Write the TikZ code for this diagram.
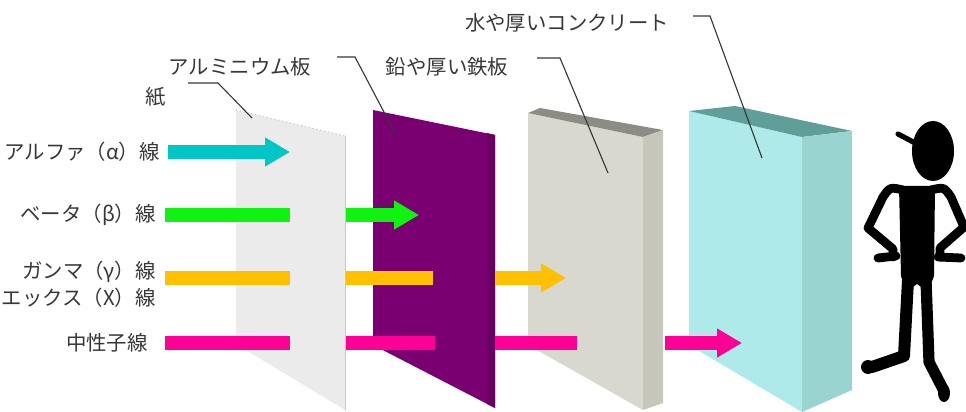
\documentclass[tikz,border=0pt]{standalone}
\usepackage{fontspec}
\setmainfont{Noto Sans CJK JP}
\usepackage{tikz}
\usetikzlibrary{arrows.meta}
\definecolor{textgray}{RGB}{55,55,55}
\definecolor{paperface}{RGB}{235,235,235}
\definecolor{paperedge}{RGB}{200,200,200}
\definecolor{alumface}{RGB}{122,0,114}
\definecolor{alumside}{RGB}{104,0,98}
\definecolor{ironface}{RGB}{216,216,206}
\definecolor{ironside}{RGB}{198,198,186}
\definecolor{irontop}{RGB}{140,140,132}
\definecolor{waterface}{RGB}{174,234,234}
\definecolor{waterside}{RGB}{154,212,208}
\definecolor{watertop}{RGB}{96,158,154}
\definecolor{alphacol}{RGB}{0,198,198}
\definecolor{betacol}{RGB}{16,242,16}
\definecolor{gammacol}{RGB}{255,192,0}
\definecolor{neutroncol}{RGB}{255,0,150}
\tikzstyle{raylabel} = [text=textgray, font=\fontsize{14.5}{17}\selectfont, inner sep=0pt, anchor=east]
\tikzstyle{platelabel} = [text=textgray, font=\fontsize{14.5}{17}\selectfont, inner sep=0pt]
\tikzstyle{leader} = [draw=textgray, line width=0.8pt]
\tikzstyle{ray} = [line width=0.35cm]
\tikzstyle{ray tip} = [ray, -{Triangle[length=0.62cm, width=0.68cm]}]
\tikzstyle{limb} = [draw=black, line width=0.22cm, line cap=round, line join=round]

\begin{document}
\begin{tikzpicture}[x=0.025cm, y=-0.025cm]
	\useasboundingbox (0,0) rectangle (966,412);

	% paper
	\fill[paperface] (236,110) -- (345,136) -- (345,410) -- (236,344) -- cycle;
	\draw[paperedge, dotted, thick] (236,110) -- (345,136);
	\draw[paperedge] (345,136) -- (345,410);

	% aluminium plate
	\fill[alumface] (373,110) -- (495,135) -- (495,408) -- (373,345) -- cycle;
	\fill[alumside] (487,133) -- (495,135) -- (495,408) -- (487,404) -- cycle;

	% lead / iron block
	\fill[ironface] (528,113) -- (643,137) -- (643,410) -- (528,345) -- cycle;
	\fill[irontop] (528,113) -- (540,108) -- (663,130) -- (643,137) -- cycle;
	\fill[ironside] (643,137) -- (663,130) -- (663,403) -- (643,410) -- cycle;

	% water / concrete block
	\fill[waterface] (689,111) -- (802,137) -- (802,412) -- (689,345) -- cycle;
	\fill[watertop] (689,111) -- (735,106) -- (852,131) -- (802,137) -- cycle;
	\fill[waterside] (802,137) -- (852,131) -- (852,390) -- (802,412) -- cycle;

	% rays
	\node[raylabel] (alpha) at (160,152) {アルファ（α）線};
	\node[raylabel] (beta) at (156,215) {ベータ（β）線};
	\node[raylabel] (gamma) at (156,272) {ガンマ（γ）線};
	\node[raylabel] (xray) at (156,298) {エックス（X）線};
	\node[raylabel] (neutron) at (148,343) {中性子線};

	\draw[ray tip, alphacol] (168,152) -- (290,152);

	\draw[ray, betacol] (165,215) -- (290,215);
	\draw[ray tip, betacol] (346,215) -- (419,215);

	\draw[ray, gammacol] (165,278) -- (290,278);
	\draw[ray, gammacol] (346,278) -- (433,278);
	\draw[ray tip, gammacol] (495,278) -- (566,278);

	\draw[ray, neutroncol] (165,343) -- (290,343);
	\draw[ray, neutroncol] (346,343) -- (435,343);
	\draw[ray, neutroncol] (495,343) -- (577,343);
	\draw[ray tip, neutroncol] (665,343) -- (742,343);

	% shields
	\node[platelabel] (paper) at (156,97) {紙};
	\node[platelabel] (alum) at (240,67) {アルミニウム板};
	\node[platelabel] (iron) at (447,67) {鉛や厚い鉄板};
	\node[platelabel] (water) at (567,23) {水や厚いコンクリート};

	\draw[leader] (188,83) -- (218,83) -- (252,118);
	\draw[leader] (337,57) -- (355,57) -- (395,133);
	\draw[leader] (537,58) -- (560,58) -- (608,173);
	\draw[leader] (693,16) -- (710,16) -- (762,158);

	% person behind the shields
	\fill (933,151) ellipse [x radius=21, y radius=30];
	\draw[limb, line width=0.13cm] (898,134) -- (917,144);
	\fill (899,186) -- (935,186) -- (934,276) -- (928,292) -- (917,284) -- (906,292) -- (901,276) -- cycle;
	\draw[limb] (903,190) .. controls (890,187) .. (883,197) -- (868,228) -- (893,249) -- (893,257);
	\draw[limb] (878,258) -- (896,256);
	\draw[limb] (931,190) .. controls (944,187) .. (951,197) -- (964,227) -- (940,248) -- (940,257);
	\draw[limb] (938,257) -- (961,258);
	\draw[limb, line width=0.3cm] (908,280) -- (904,356) -- (872,367);
	\draw[limb, line width=0.28cm] (926,280) -- (929,362) -- (943,389);
	\fill (868,367) circle (7);
	\fill (944,393) ellipse [x radius=6, y radius=9];
\end{tikzpicture}
\end{document}
